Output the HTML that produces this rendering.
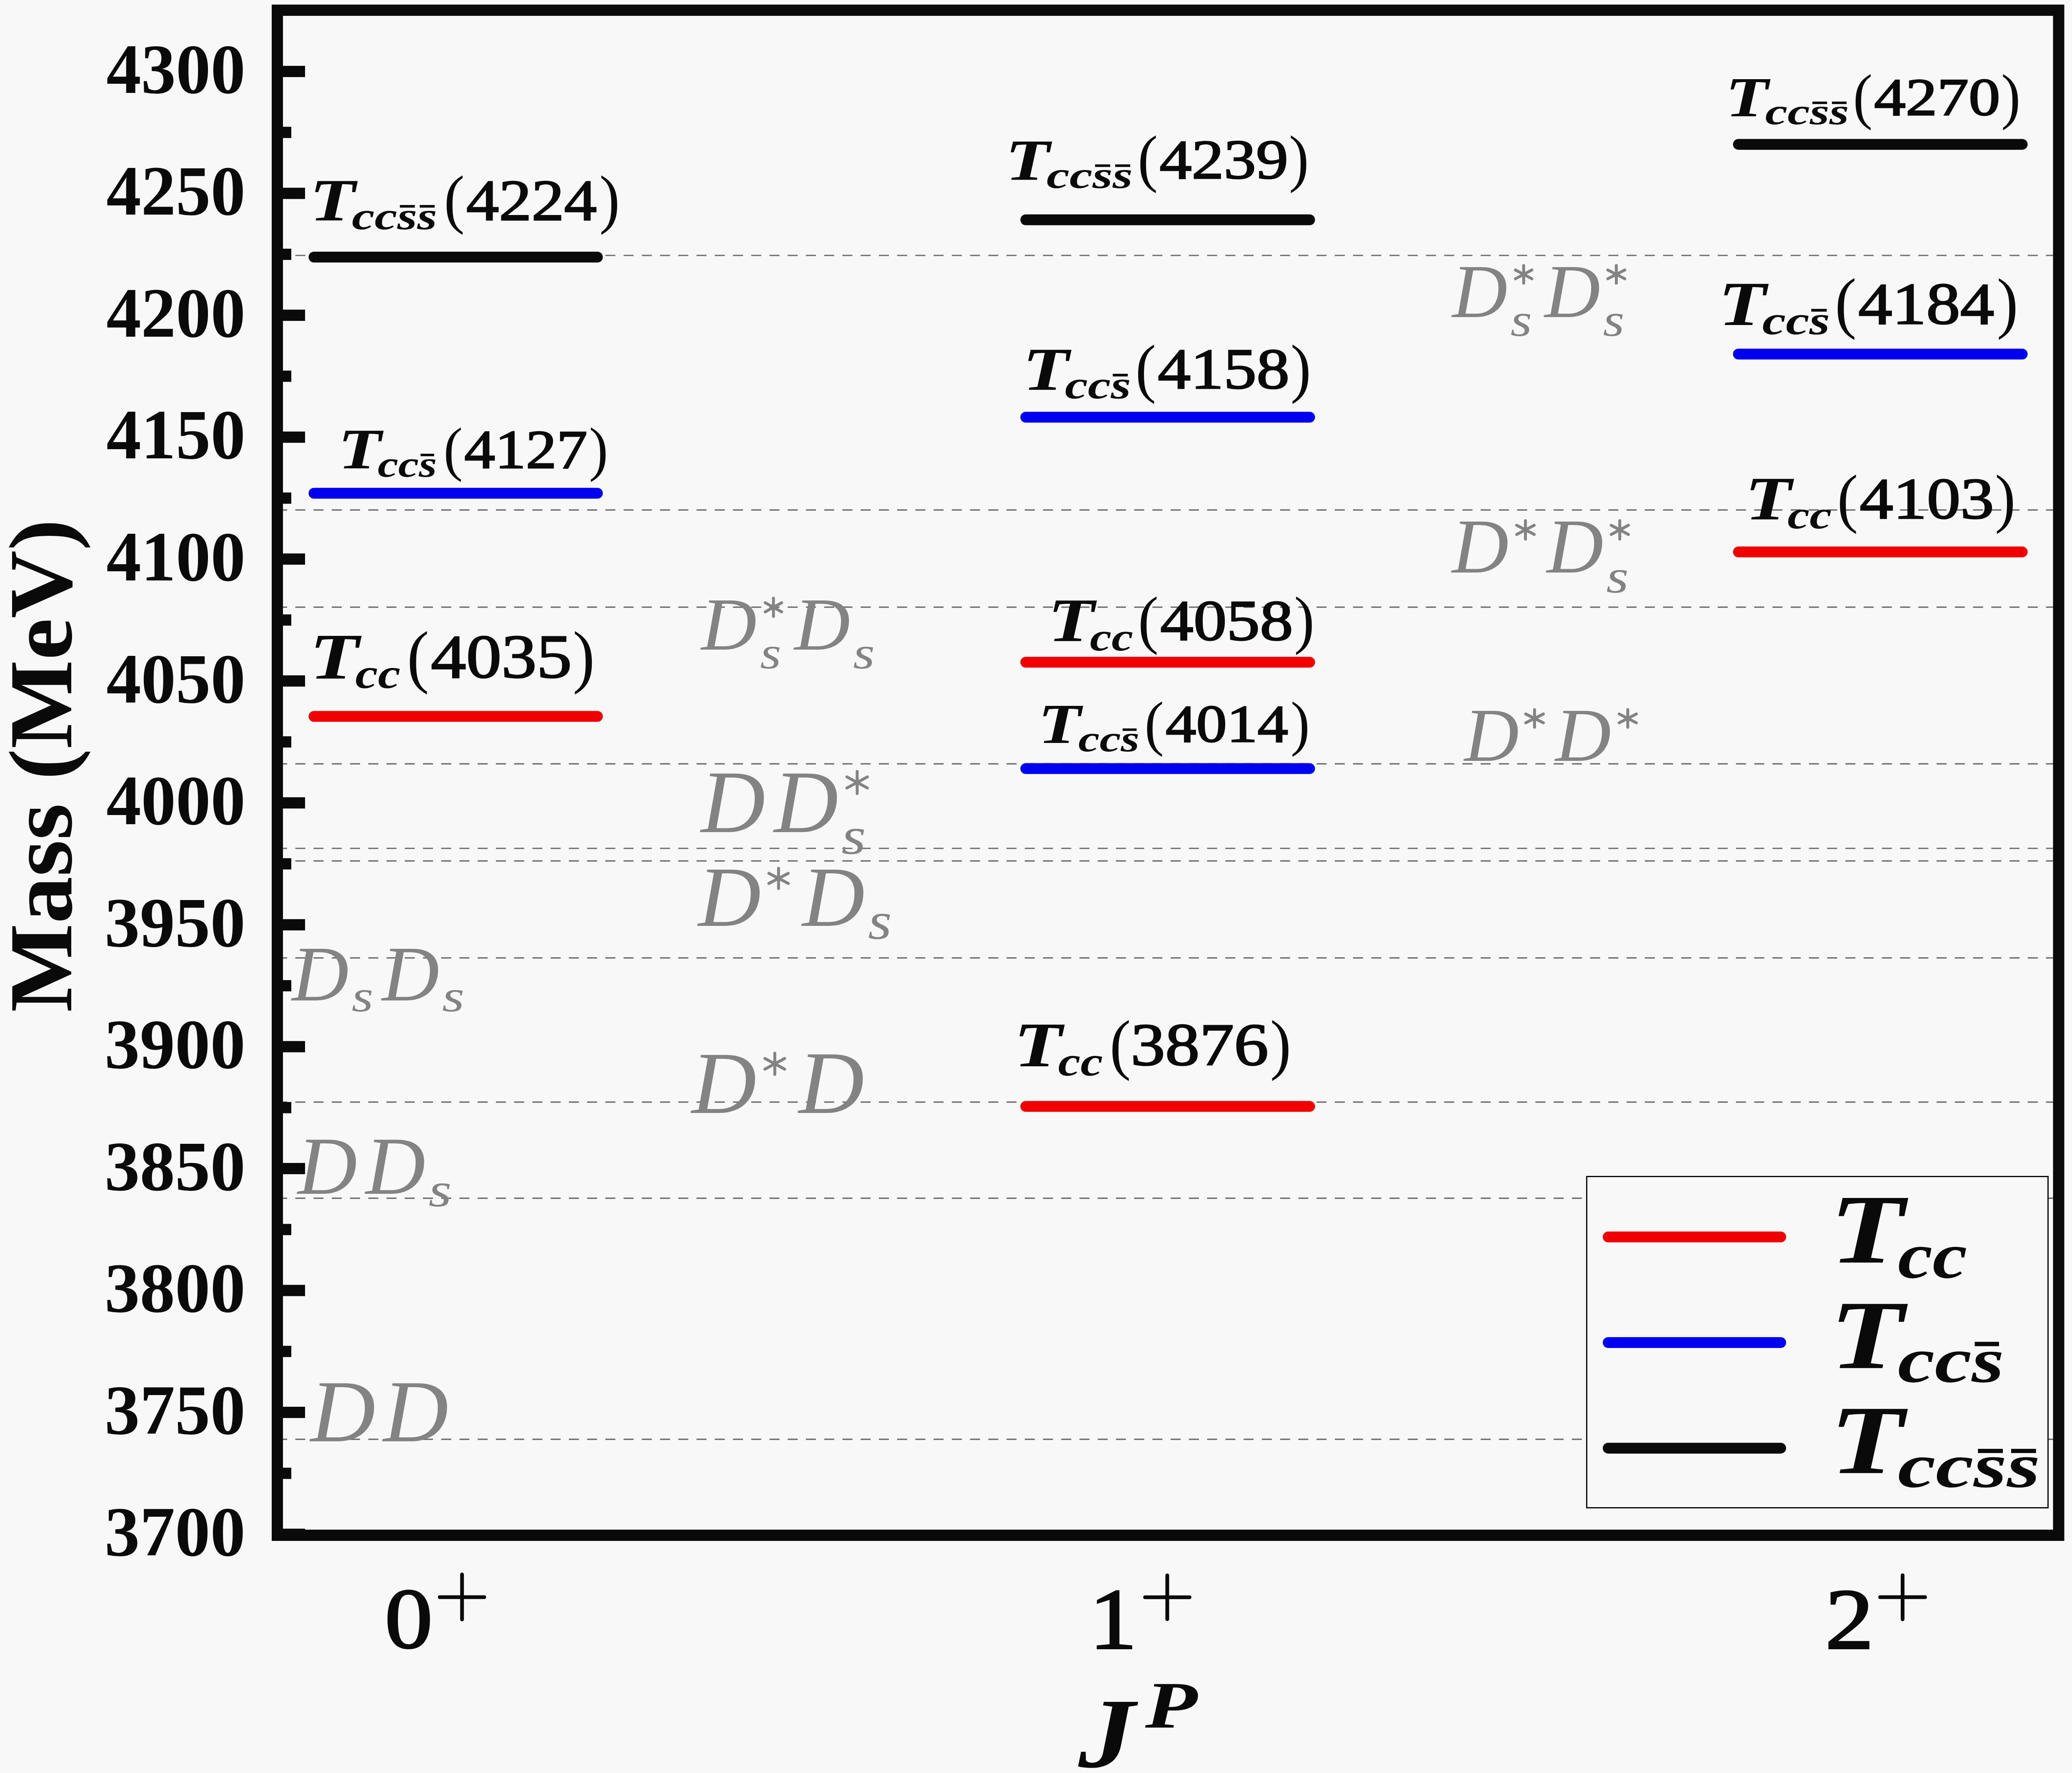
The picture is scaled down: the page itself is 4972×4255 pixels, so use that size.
<!DOCTYPE html>
<html><head><meta charset="utf-8"><style>
html,body{margin:0;padding:0;background:#f8f8f8;}
svg{display:block;}
text{font-family:"Liberation Serif",serif;}
</style></head><body>
<svg width="4972" height="4255" viewBox="0 0 4972 4255">
<rect x="0" y="0" width="4972" height="4255" fill="#f8f8f8"/>
<line x1="679" y1="613.0" x2="4927" y2="613.0" stroke="#6a6a6a" stroke-width="3.2" stroke-dasharray="24 19.76" stroke-dashoffset="14.1"/>
<line x1="679" y1="1223.9" x2="4927" y2="1223.9" stroke="#6a6a6a" stroke-width="3.2" stroke-dasharray="24 19.76" stroke-dashoffset="14.1"/>
<line x1="679" y1="1457.1" x2="4927" y2="1457.1" stroke="#6a6a6a" stroke-width="3.2" stroke-dasharray="24 19.76" stroke-dashoffset="14.1"/>
<line x1="679" y1="1833.2" x2="4927" y2="1833.2" stroke="#6a6a6a" stroke-width="3.2" stroke-dasharray="24 19.76" stroke-dashoffset="14.1"/>
<line x1="679" y1="2036.0" x2="4927" y2="2036.0" stroke="#6a6a6a" stroke-width="3.2" stroke-dasharray="24 19.76" stroke-dashoffset="14.1"/>
<line x1="679" y1="2066.1" x2="4927" y2="2066.1" stroke="#6a6a6a" stroke-width="3.2" stroke-dasharray="24 19.76" stroke-dashoffset="14.1"/>
<line x1="679" y1="2298.9" x2="4927" y2="2298.9" stroke="#6a6a6a" stroke-width="3.2" stroke-dasharray="24 19.76" stroke-dashoffset="14.1"/>
<line x1="679" y1="2644.9" x2="4927" y2="2644.9" stroke="#6a6a6a" stroke-width="3.2" stroke-dasharray="24 19.76" stroke-dashoffset="14.1"/>
<line x1="679" y1="2875.6" x2="4927" y2="2875.6" stroke="#6a6a6a" stroke-width="3.2" stroke-dasharray="24 19.76" stroke-dashoffset="14.1"/>
<line x1="679" y1="3454.2" x2="4927" y2="3454.2" stroke="#6a6a6a" stroke-width="3.2" stroke-dasharray="24 19.76" stroke-dashoffset="14.1"/>
<line x1="753.5" y1="617.0" x2="1433.5" y2="617.0" stroke="#0a0a0a" stroke-width="26" stroke-linecap="round"/>
<line x1="753.5" y1="1183.8" x2="1433.5" y2="1183.8" stroke="#0000f0" stroke-width="26" stroke-linecap="round"/>
<line x1="753.5" y1="1719.3" x2="1433.5" y2="1719.3" stroke="#f00000" stroke-width="26" stroke-linecap="round"/>
<line x1="2461.5" y1="527.5" x2="3142.5" y2="527.5" stroke="#0a0a0a" stroke-width="26" stroke-linecap="round"/>
<line x1="2461.5" y1="1001.2" x2="3142.5" y2="1001.2" stroke="#0000f0" stroke-width="26" stroke-linecap="round"/>
<line x1="2461.5" y1="1589.2" x2="3142.5" y2="1589.2" stroke="#f00000" stroke-width="26" stroke-linecap="round"/>
<line x1="2461.5" y1="1844.6" x2="3142.5" y2="1844.6" stroke="#0000f0" stroke-width="26" stroke-linecap="round"/>
<line x1="2461.5" y1="2655.3" x2="3142.5" y2="2655.3" stroke="#f00000" stroke-width="26" stroke-linecap="round"/>
<line x1="4171.5" y1="346.4" x2="4852.5" y2="346.4" stroke="#0a0a0a" stroke-width="26" stroke-linecap="round"/>
<line x1="4171.5" y1="849.7" x2="4852.5" y2="849.7" stroke="#0000f0" stroke-width="26" stroke-linecap="round"/>
<line x1="4171.5" y1="1324.6" x2="4852.5" y2="1324.6" stroke="#f00000" stroke-width="26" stroke-linecap="round"/>
<text transform="matrix(1.2386 0 0 1 743.09 529.00)" font-weight="bold" font-style="italic" font-size="144.82" fill="#0a0a0a">T</text>
<text transform="matrix(1.3067 0 0 1 844.28 549.91)" font-weight="bold" font-style="italic" font-size="94.01" fill="#0a0a0a">ccss</text>
<rect x="959.59" y="491.96" width="35.77" height="6.32" fill="#0a0a0a"/>
<rect x="1007.25" y="491.96" width="35.77" height="6.32" fill="#0a0a0a"/>
<text transform="matrix(0.9555 0 0 1 1065.19 529.86)" font-weight="normal" font-style="normal" font-size="155.85" fill="#0a0a0a">(</text>
<text transform="matrix(0.9481 0 0 1 1438.15 529.86)" font-weight="normal" font-style="normal" font-size="155.85" fill="#0a0a0a">)</text>
<text transform="matrix(1.1263 0 0 1 1118.97 527.50)" font-weight="normal" font-style="normal" font-size="138.97" fill="#0a0a0a" stroke="#0a0a0a" stroke-width="3" stroke-linejoin="miter" stroke-miterlimit="2">4224</text>
<text transform="matrix(1.2386 0 0 1 811.37 1124.00)" font-weight="bold" font-style="italic" font-size="137.20" fill="#0a0a0a">T</text>
<text transform="matrix(1.2513 0 0 1 906.14 1143.81)" font-weight="bold" font-style="italic" font-size="89.06" fill="#0a0a0a">ccs</text>
<rect x="1009.24" y="1088.91" width="32.45" height="5.99" fill="#0a0a0a"/>
<text transform="matrix(0.9555 0 0 1 1064.18 1126.48)" font-weight="normal" font-style="normal" font-size="144.92" fill="#0a0a0a">(</text>
<text transform="matrix(0.9481 0 0 1 1413.45 1126.48)" font-weight="normal" font-style="normal" font-size="144.92" fill="#0a0a0a">)</text>
<text transform="matrix(1.1231 0 0 1 1114.25 1122.50)" font-weight="normal" font-style="normal" font-size="131.42" fill="#0a0a0a" stroke="#0a0a0a" stroke-width="3" stroke-linejoin="miter" stroke-miterlimit="2">4127</text>
<text transform="matrix(1.2386 0 0 1 743.05 1628.50)" font-weight="bold" font-style="italic" font-size="156.40" fill="#0a0a0a">T</text>
<text transform="matrix(1.2019 0 0 1 852.59 1651.08)" font-weight="bold" font-style="italic" font-size="101.53" fill="#0a0a0a">cc</text>
<text transform="matrix(0.9555 0 0 1 976.59 1630.77)" font-weight="normal" font-style="normal" font-size="167.11" fill="#0a0a0a">(</text>
<text transform="matrix(0.9481 0 0 1 1374.55 1630.77)" font-weight="normal" font-style="normal" font-size="167.11" fill="#0a0a0a">)</text>
<text transform="matrix(1.1438 0 0 1 1034.12 1625.52)" font-weight="normal" font-style="normal" font-size="147.77" fill="#0a0a0a" stroke="#0a0a0a" stroke-width="3" stroke-linejoin="miter" stroke-miterlimit="2">4035</text>
<text transform="matrix(1.2386 0 0 1 2412.55 430.50)" font-weight="bold" font-style="italic" font-size="140.70" fill="#0a0a0a">T</text>
<text transform="matrix(1.3584 0 0 1 2511.26 450.82)" font-weight="bold" font-style="italic" font-size="91.34" fill="#0a0a0a">ccss</text>
<rect x="2627.73" y="394.51" width="36.13" height="6.14" fill="#0a0a0a"/>
<rect x="2675.87" y="394.51" width="36.13" height="6.14" fill="#0a0a0a"/>
<text transform="matrix(0.9555 0 0 1 2730.08 431.15)" font-weight="normal" font-style="normal" font-size="151.66" fill="#0a0a0a">(</text>
<text transform="matrix(0.9481 0 0 1 3093.10 431.15)" font-weight="normal" font-style="normal" font-size="151.66" fill="#0a0a0a">)</text>
<text transform="matrix(1.1616 0 0 1 2782.41 427.67)" font-weight="normal" font-style="normal" font-size="132.89" fill="#0a0a0a" stroke="#0a0a0a" stroke-width="3" stroke-linejoin="miter" stroke-miterlimit="2">4239</text>
<text transform="matrix(1.2386 0 0 1 2453.89 934.60)" font-weight="bold" font-style="italic" font-size="146.95" fill="#0a0a0a">T</text>
<text transform="matrix(1.3018 0 0 1 2555.26 955.82)" font-weight="bold" font-style="italic" font-size="95.40" fill="#0a0a0a">ccs</text>
<rect x="2670.15" y="897.02" width="36.16" height="6.41" fill="#0a0a0a"/>
<text transform="matrix(0.9555 0 0 1 2724.47 936.39)" font-weight="normal" font-style="normal" font-size="156.18" fill="#0a0a0a">(</text>
<text transform="matrix(0.9481 0 0 1 3096.86 936.39)" font-weight="normal" font-style="normal" font-size="156.18" fill="#0a0a0a">)</text>
<text transform="matrix(1.1431 0 0 1 2778.34 931.72)" font-weight="normal" font-style="normal" font-size="138.17" fill="#0a0a0a" stroke="#0a0a0a" stroke-width="3" stroke-linejoin="miter" stroke-miterlimit="2">4158</text>
<text transform="matrix(1.2386 0 0 1 2514.54 1539.20)" font-weight="bold" font-style="italic" font-size="147.56" fill="#0a0a0a">T</text>
<text transform="matrix(1.2191 0 0 1 2615.37 1560.51)" font-weight="bold" font-style="italic" font-size="95.79" fill="#0a0a0a">cc</text>
<text transform="matrix(0.9555 0 0 1 2730.79 1539.08)" font-weight="normal" font-style="normal" font-size="155.30" fill="#0a0a0a">(</text>
<text transform="matrix(0.9481 0 0 1 3105.30 1539.08)" font-weight="normal" font-style="normal" font-size="155.30" fill="#0a0a0a">)</text>
<text transform="matrix(1.1474 0 0 1 2784.32 1536.31)" font-weight="normal" font-style="normal" font-size="138.76" fill="#0a0a0a" stroke="#0a0a0a" stroke-width="3" stroke-linejoin="miter" stroke-miterlimit="2">4058</text>
<text transform="matrix(1.2386 0 0 1 2490.89 1782.90)" font-weight="bold" font-style="italic" font-size="135.82" fill="#0a0a0a">T</text>
<text transform="matrix(1.3054 0 0 1 2587.39 1802.51)" font-weight="bold" font-style="italic" font-size="88.17" fill="#0a0a0a">ccs</text>
<rect x="2693.87" y="1748.16" width="33.52" height="5.93" fill="#0a0a0a"/>
<text transform="matrix(0.9555 0 0 1 2746.56 1784.79)" font-weight="normal" font-style="normal" font-size="145.81" fill="#0a0a0a">(</text>
<text transform="matrix(0.9481 0 0 1 3096.91 1784.79)" font-weight="normal" font-style="normal" font-size="145.81" fill="#0a0a0a">)</text>
<text transform="matrix(1.1512 0 0 1 2796.96 1780.12)" font-weight="normal" font-style="normal" font-size="127.74" fill="#0a0a0a" stroke="#0a0a0a" stroke-width="3" stroke-linejoin="miter" stroke-miterlimit="2">4014</text>
<text transform="matrix(1.2386 0 0 1 2432.84 2558.50)" font-weight="bold" font-style="italic" font-size="153.20" fill="#0a0a0a">T</text>
<text transform="matrix(1.2164 0 0 1 2539.11 2580.62)" font-weight="bold" font-style="italic" font-size="99.45" fill="#0a0a0a">cc</text>
<text transform="matrix(0.9555 0 0 1 2662.80 2560.07)" font-weight="normal" font-style="normal" font-size="160.04" fill="#0a0a0a">(</text>
<text transform="matrix(0.9481 0 0 1 3047.79 2560.07)" font-weight="normal" font-style="normal" font-size="160.04" fill="#0a0a0a">)</text>
<text transform="matrix(1.1463 0 0 1 2713.26 2555.56)" font-weight="normal" font-style="normal" font-size="144.23" fill="#0a0a0a" stroke="#0a0a0a" stroke-width="3" stroke-linejoin="miter" stroke-miterlimit="2">3876</text>
<text transform="matrix(1.2386 0 0 1 4140.40 278.50)" font-weight="bold" font-style="italic" font-size="135.67" fill="#0a0a0a">T</text>
<text transform="matrix(1.3709 0 0 1 4235.71 298.09)" font-weight="bold" font-style="italic" font-size="88.07" fill="#0a0a0a">ccss</text>
<rect x="4349.05" y="243.80" width="35.16" height="5.92" fill="#0a0a0a"/>
<rect x="4395.90" y="243.80" width="35.16" height="5.92" fill="#0a0a0a"/>
<text transform="matrix(0.9555 0 0 1 4446.45 281.38)" font-weight="normal" font-style="normal" font-size="147.24" fill="#0a0a0a">(</text>
<text transform="matrix(0.9481 0 0 1 4802.01 281.38)" font-weight="normal" font-style="normal" font-size="147.24" fill="#0a0a0a">)</text>
<text transform="matrix(1.1844 0 0 1 4497.28 275.72)" font-weight="normal" font-style="normal" font-size="127.60" fill="#0a0a0a" stroke="#0a0a0a" stroke-width="3" stroke-linejoin="miter" stroke-miterlimit="2">4270</text>
<text transform="matrix(1.2386 0 0 1 4123.50 780.00)" font-weight="bold" font-style="italic" font-size="151.37" fill="#0a0a0a">T</text>
<text transform="matrix(1.2944 0 0 1 4228.72 801.86)" font-weight="bold" font-style="italic" font-size="98.27" fill="#0a0a0a">ccs</text>
<rect x="4346.39" y="741.29" width="37.04" height="6.60" fill="#0a0a0a"/>
<text transform="matrix(0.9555 0 0 1 4403.08 781.46)" font-weight="normal" font-style="normal" font-size="162.91" fill="#0a0a0a">(</text>
<text transform="matrix(0.9481 0 0 1 4791.61 781.46)" font-weight="normal" font-style="normal" font-size="162.91" fill="#0a0a0a">)</text>
<text transform="matrix(1.1443 0 0 1 4459.24 777.08)" font-weight="normal" font-style="normal" font-size="142.46" fill="#0a0a0a" stroke="#0a0a0a" stroke-width="3" stroke-linejoin="miter" stroke-miterlimit="2">4184</text>
<text transform="matrix(1.2386 0 0 1 4187.33 1246.90)" font-weight="bold" font-style="italic" font-size="147.71" fill="#0a0a0a">T</text>
<text transform="matrix(1.2458 0 0 1 4289.13 1268.23)" font-weight="bold" font-style="italic" font-size="95.89" fill="#0a0a0a">cc</text>
<text transform="matrix(0.9555 0 0 1 4408.46 1248.00)" font-weight="normal" font-style="normal" font-size="157.06" fill="#0a0a0a">(</text>
<text transform="matrix(0.9481 0 0 1 4787.01 1248.00)" font-weight="normal" font-style="normal" font-size="157.06" fill="#0a0a0a">)</text>
<text transform="matrix(1.1563 0 0 1 4462.58 1244.01)" font-weight="normal" font-style="normal" font-size="139.32" fill="#0a0a0a" stroke="#0a0a0a" stroke-width="3" stroke-linejoin="miter" stroke-miterlimit="2">4103</text>
<text transform="matrix(1.0040 0 0 1 3484.70 760.93)" font-weight="normal" font-style="italic" font-size="182.83" fill="#838383">D</text>
<path d="M3656.2 637.3L3656.2 679.5M3636.5 647.8L3675.9 669.0M3636.5 669.0L3675.9 647.8" stroke="#838383" stroke-width="7" stroke-linecap="round" fill="none"/>
<text transform="matrix(1.1774 0 0 1 3624.40 806.47)" font-weight="normal" font-style="italic" font-size="112.92" fill="#838383">s</text>
<text transform="matrix(1.0132 0 0 1 3706.22 760.93)" font-weight="normal" font-style="italic" font-size="182.83" fill="#838383">D</text>
<path d="M3878.5 637.3L3878.5 679.5M3858.1 647.8L3898.9 669.0M3858.1 669.0L3898.9 647.8" stroke="#838383" stroke-width="7" stroke-linecap="round" fill="none"/>
<text transform="matrix(1.1697 0 0 1 3846.42 806.47)" font-weight="normal" font-style="italic" font-size="112.92" fill="#838383">s</text>
<text transform="matrix(1.0162 0 0 1 3483.96 1374.23)" font-weight="normal" font-style="italic" font-size="185.71" fill="#838383">D</text>
<path d="M3660.5 1249.5L3660.5 1293.8M3639.5 1260.6L3681.5 1282.7M3639.5 1282.7L3681.5 1260.6" stroke="#838383" stroke-width="7" stroke-linecap="round" fill="none"/>
<text transform="matrix(1.0139 0 0 1 3711.56 1374.23)" font-weight="normal" font-style="italic" font-size="185.71" fill="#838383">D</text>
<path d="M3886.8 1249.5L3886.8 1293.8M3866.2 1260.6L3907.5 1282.7M3866.2 1282.7L3907.5 1260.6" stroke="#838383" stroke-width="7" stroke-linecap="round" fill="none"/>
<text transform="matrix(1.2193 0 0 1 3854.34 1421.56)" font-weight="normal" font-style="italic" font-size="113.54" fill="#838383">s</text>
<text transform="matrix(0.9918 0 0 1 3513.68 1825.93)" font-weight="normal" font-style="italic" font-size="182.98" fill="#838383">D</text>
<path d="M3682.3 1703.0L3682.3 1745.2M3661.2 1713.5L3703.5 1734.6M3661.2 1734.6L3703.5 1713.5" stroke="#838383" stroke-width="7" stroke-linecap="round" fill="none"/>
<text transform="matrix(1.0123 0 0 1 3732.22 1825.93)" font-weight="normal" font-style="italic" font-size="182.98" fill="#838383">D</text>
<path d="M3906.0 1703.0L3906.0 1745.2M3885.5 1713.5L3926.5 1734.6M3885.5 1734.6L3926.5 1713.5" stroke="#838383" stroke-width="7" stroke-linecap="round" fill="none"/>
<text transform="matrix(1.0213 0 0 1 1682.41 1558.64)" font-weight="normal" font-style="italic" font-size="180.55" fill="#838383">D</text>
<path d="M1856.0 1435.6L1856.0 1479.3M1836.3 1446.5L1875.7 1468.4M1836.3 1468.4L1875.7 1446.5" stroke="#838383" stroke-width="7" stroke-linecap="round" fill="none"/>
<text transform="matrix(1.1753 0 0 1 1824.04 1604.20)" font-weight="normal" font-style="italic" font-size="110.42" fill="#838383">s</text>
<text transform="matrix(1.0275 0 0 1 1906.03 1558.64)" font-weight="normal" font-style="italic" font-size="180.55" fill="#838383">D</text>
<text transform="matrix(1.2145 0 0 1 2046.99 1604.20)" font-weight="normal" font-style="italic" font-size="110.42" fill="#838383">s</text>
<text transform="matrix(1.0006 0 0 1 1681.96 1996.57)" font-weight="normal" font-style="italic" font-size="213.53" fill="#838383">D</text>
<text transform="matrix(1.0006 0 0 1 1857.16 1996.57)" font-weight="normal" font-style="italic" font-size="213.53" fill="#838383">D</text>
<path d="M2056.9 1851.3L2056.9 1904.2M2032.4 1864.5L2081.3 1891.0M2032.4 1891.0L2081.3 1864.5" stroke="#838383" stroke-width="7" stroke-linecap="round" fill="none"/>
<text transform="matrix(1.1911 0 0 1 2019.19 2049.23)" font-weight="normal" font-style="italic" font-size="126.67" fill="#838383">s</text>
<text transform="matrix(1.0125 0 0 1 1675.50 2222.29)" font-weight="normal" font-style="italic" font-size="205.93" fill="#838383">D</text>
<path d="M1868.2 2083.7L1868.2 2132.3M1845.0 2095.8L1891.5 2120.2M1845.0 2120.2L1891.5 2095.8" stroke="#838383" stroke-width="7" stroke-linecap="round" fill="none"/>
<text transform="matrix(1.0084 0 0 1 1925.09 2222.29)" font-weight="normal" font-style="italic" font-size="205.93" fill="#838383">D</text>
<text transform="matrix(1.1527 0 0 1 2083.05 2253.33)" font-weight="normal" font-style="italic" font-size="126.88" fill="#838383">s</text>
<text transform="matrix(1.0112 0 0 1 1659.59 2671.27)" font-weight="normal" font-style="italic" font-size="213.07" fill="#838383">D</text>
<path d="M1859.2 2527.5L1859.2 2578.5M1835.5 2540.2L1882.9 2565.8M1835.5 2565.8L1882.9 2540.2" stroke="#838383" stroke-width="7" stroke-linecap="round" fill="none"/>
<text transform="matrix(1.0217 0 0 1 1916.61 2671.27)" font-weight="normal" font-style="italic" font-size="213.07" fill="#838383">D</text>
<text transform="matrix(1.0039 0 0 1 700.46 2400.62)" font-weight="normal" font-style="italic" font-size="187.99" fill="#838383">D</text>
<text transform="matrix(1.2331 0 0 1 843.69 2426.91)" font-weight="normal" font-style="italic" font-size="108.75" fill="#838383">s</text>
<text transform="matrix(1.0135 0 0 1 916.49 2400.62)" font-weight="normal" font-style="italic" font-size="187.99" fill="#838383">D</text>
<text transform="matrix(1.2703 0 0 1 1060.84 2426.91)" font-weight="normal" font-style="italic" font-size="108.75" fill="#838383">s</text>
<text transform="matrix(0.9987 0 0 1 714.37 2864.90)" font-weight="normal" font-style="italic" font-size="198.02" fill="#838383">D</text>
<text transform="matrix(1.0036 0 0 1 877.28 2864.90)" font-weight="normal" font-style="italic" font-size="198.02" fill="#838383">D</text>
<text transform="matrix(1.2126 0 0 1 1028.29 2894.52)" font-weight="normal" font-style="italic" font-size="117.50" fill="#838383">s</text>
<text transform="matrix(1.0175 0 0 1 745.09 3459.38)" font-weight="normal" font-style="italic" font-size="212.16" fill="#838383">D</text>
<text transform="matrix(1.0215 0 0 1 919.60 3459.38)" font-weight="normal" font-style="italic" font-size="212.16" fill="#838383">D</text>
<rect x="665.5" y="24.5" width="4274.5" height="3660" fill="none" stroke="#0a0a0a" stroke-width="27"/>
<rect x="679" y="3668.60" width="53" height="27" fill="#0a0a0a"/>
<text transform="matrix(0.9987 0 0 1 251.08 3733.41)" font-weight="bold" font-style="normal" font-size="169.14" fill="#0a0a0a">3700</text>
<rect x="679" y="3522.32" width="20" height="27" fill="#0a0a0a"/>
<rect x="679" y="3376.05" width="53" height="27" fill="#0a0a0a"/>
<text transform="matrix(0.9987 0 0 1 251.08 3440.86)" font-weight="bold" font-style="normal" font-size="169.14" fill="#0a0a0a">3750</text>
<rect x="679" y="3229.77" width="20" height="27" fill="#0a0a0a"/>
<rect x="679" y="3083.50" width="53" height="27" fill="#0a0a0a"/>
<text transform="matrix(0.9987 0 0 1 251.08 3148.31)" font-weight="bold" font-style="normal" font-size="169.14" fill="#0a0a0a">3800</text>
<rect x="679" y="2937.22" width="20" height="27" fill="#0a0a0a"/>
<rect x="679" y="2790.95" width="53" height="27" fill="#0a0a0a"/>
<text transform="matrix(1.0017 0 0 1 251.08 2855.76)" font-weight="bold" font-style="normal" font-size="168.64" fill="#0a0a0a">3850</text>
<rect x="679" y="2644.68" width="20" height="27" fill="#0a0a0a"/>
<rect x="679" y="2498.40" width="53" height="27" fill="#0a0a0a"/>
<text transform="matrix(0.9987 0 0 1 251.08 2563.21)" font-weight="bold" font-style="normal" font-size="169.14" fill="#0a0a0a">3900</text>
<rect x="679" y="2352.12" width="20" height="27" fill="#0a0a0a"/>
<rect x="679" y="2205.85" width="53" height="27" fill="#0a0a0a"/>
<text transform="matrix(0.9987 0 0 1 251.08 2270.66)" font-weight="bold" font-style="normal" font-size="169.14" fill="#0a0a0a">3950</text>
<rect x="679" y="2059.57" width="20" height="27" fill="#0a0a0a"/>
<rect x="679" y="1913.30" width="53" height="27" fill="#0a0a0a"/>
<text transform="matrix(0.9864 0 0 1 255.16 1978.11)" font-weight="bold" font-style="normal" font-size="169.14" fill="#0a0a0a">4000</text>
<rect x="679" y="1767.02" width="20" height="27" fill="#0a0a0a"/>
<rect x="679" y="1620.75" width="53" height="27" fill="#0a0a0a"/>
<text transform="matrix(0.9864 0 0 1 255.16 1685.56)" font-weight="bold" font-style="normal" font-size="169.14" fill="#0a0a0a">4050</text>
<rect x="679" y="1474.47" width="20" height="27" fill="#0a0a0a"/>
<rect x="679" y="1328.20" width="53" height="27" fill="#0a0a0a"/>
<text transform="matrix(0.9864 0 0 1 255.16 1393.01)" font-weight="bold" font-style="normal" font-size="169.14" fill="#0a0a0a">4100</text>
<rect x="679" y="1181.92" width="20" height="27" fill="#0a0a0a"/>
<rect x="679" y="1035.65" width="53" height="27" fill="#0a0a0a"/>
<text transform="matrix(0.9864 0 0 1 255.16 1100.46)" font-weight="bold" font-style="normal" font-size="169.14" fill="#0a0a0a">4150</text>
<rect x="679" y="889.38" width="20" height="27" fill="#0a0a0a"/>
<rect x="679" y="743.10" width="53" height="27" fill="#0a0a0a"/>
<text transform="matrix(0.9864 0 0 1 255.16 807.91)" font-weight="bold" font-style="normal" font-size="169.14" fill="#0a0a0a">4200</text>
<rect x="679" y="596.83" width="20" height="27" fill="#0a0a0a"/>
<rect x="679" y="450.55" width="53" height="27" fill="#0a0a0a"/>
<text transform="matrix(0.9864 0 0 1 255.16 515.36)" font-weight="bold" font-style="normal" font-size="169.14" fill="#0a0a0a">4250</text>
<rect x="679" y="304.27" width="20" height="27" fill="#0a0a0a"/>
<rect x="679" y="158.00" width="53" height="27" fill="#0a0a0a"/>
<text transform="matrix(0.9864 0 0 1 255.16 222.81)" font-weight="bold" font-style="normal" font-size="169.14" fill="#0a0a0a">4300</text>
<rect x="3807.5" y="2823.5" width="1107" height="795" fill="#f8f8f8" stroke="#0a0a0a" stroke-width="3"/>
<line x1="3859" y1="2968.6" x2="4273" y2="2968.6" stroke="#f00000" stroke-width="26" stroke-linecap="round"/>
<line x1="3859" y1="3222" x2="4273" y2="3222" stroke="#0000f0" stroke-width="26" stroke-linecap="round"/>
<line x1="3859" y1="3475.4" x2="4273" y2="3475.4" stroke="#0a0a0a" stroke-width="26" stroke-linecap="round"/>
<text transform="matrix(1.2386 0 0 1 4390.60 3030.00)" font-weight="bold" font-style="italic" font-size="236.59" fill="#0a0a0a">T</text>
<text transform="matrix(1.2049 0 0 1 4553.97 3065.94)" font-weight="bold" font-style="italic" font-size="155.83" fill="#0a0a0a">cc</text>
<text transform="matrix(1.2386 0 0 1 4390.74 3283.20)" font-weight="bold" font-style="italic" font-size="235.06" fill="#0a0a0a">T</text>
<text transform="matrix(1.2841 0 0 1 4553.80 3316.14)" font-weight="bold" font-style="italic" font-size="155.62" fill="#0a0a0a">ccs</text>
<rect x="4738.68" y="3220.22" width="58.19" height="10.46" fill="#0a0a0a"/>
<text transform="matrix(1.2386 0 0 1 4390.74 3535.20)" font-weight="bold" font-style="italic" font-size="235.06" fill="#0a0a0a">T</text>
<text transform="matrix(1.3698 0 0 1 4553.73 3569.40)" font-weight="bold" font-style="italic" font-size="149.79" fill="#0a0a0a">ccss</text>
<rect x="4746.33" y="3477.07" width="59.75" height="10.07" fill="#0a0a0a"/>
<rect x="4825.95" y="3477.07" width="59.75" height="10.07" fill="#0a0a0a"/>
<text transform="matrix(1.1239 0 0 1 923.26 3954.45)" font-weight="normal" font-style="normal" font-size="204.60" fill="#0a0a0a" stroke="#0a0a0a" stroke-width="4" stroke-linejoin="miter" stroke-miterlimit="2">0</text>
<text transform="matrix(1.1045 0 0 1 2613.82 3956.00)" font-weight="normal" font-style="normal" font-size="207.58" fill="#0a0a0a" stroke="#0a0a0a" stroke-width="4" stroke-linejoin="miter" stroke-miterlimit="2">1</text>
<text transform="matrix(1.1303 0 0 1 4379.52 3955.50)" font-weight="normal" font-style="normal" font-size="206.80" fill="#0a0a0a" stroke="#0a0a0a" stroke-width="4" stroke-linejoin="miter" stroke-miterlimit="2">2</text>
<line x1="1055.3" y1="3833" x2="1162.1" y2="3833" stroke="#0a0a0a" stroke-width="9" stroke-linecap="round"/>
<line x1="1108.7" y1="3778.6" x2="1108.7" y2="3886.5" stroke="#0a0a0a" stroke-width="9" stroke-linecap="round"/>
<line x1="2747.7" y1="3833.2" x2="2854.5" y2="3833.2" stroke="#0a0a0a" stroke-width="9" stroke-linecap="round"/>
<line x1="2801" y1="3780.7" x2="2801" y2="3885.7" stroke="#0a0a0a" stroke-width="9" stroke-linecap="round"/>
<line x1="4511.5" y1="3833" x2="4619.5" y2="3833" stroke="#0a0a0a" stroke-width="9" stroke-linecap="round"/>
<line x1="4565.5" y1="3780.5" x2="4565.5" y2="3886.0" stroke="#0a0a0a" stroke-width="9" stroke-linecap="round"/>
<text transform="matrix(1.1431 0 0 1 2587.55 4240.51)" font-weight="bold" font-style="italic" font-size="238.59" fill="#0a0a0a">J</text>
<text transform="matrix(1.2942 0 0 1 2748.00 4146.00)" font-weight="bold" font-style="italic" font-size="158.54" fill="#0a0a0a">P</text>
<text transform="matrix(0 -1.0406 1 0 170.67 2429.06)" font-weight="bold" font-style="normal" font-size="216.67" fill="#0a0a0a">Mass (MeV)</text>
</svg>
</body></html>
